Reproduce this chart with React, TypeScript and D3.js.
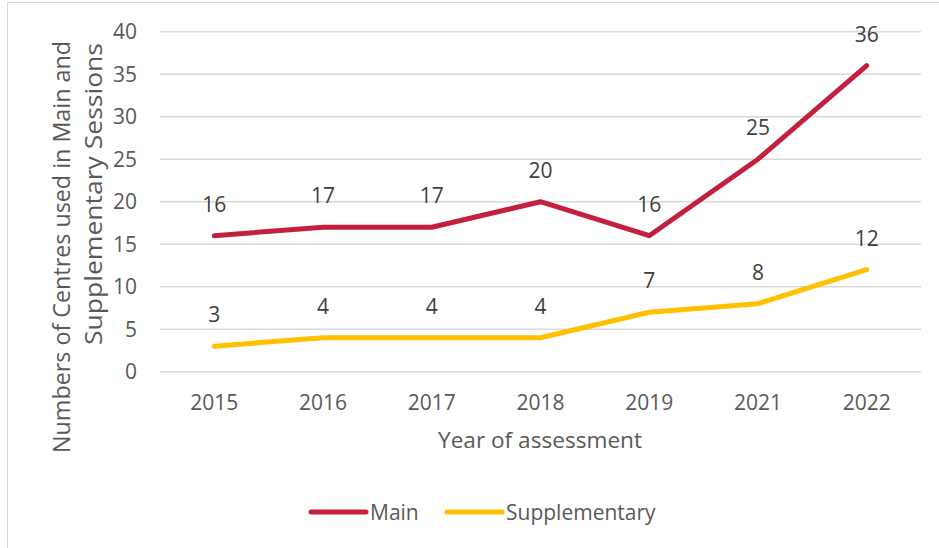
import { useEffect, useRef } from "react";
import * as d3 from "d3";

const years = ["2015", "2016", "2017", "2018", "2019", "2021", "2022"];
const mainValues = [16, 17, 17, 20, 16, 25, 36];
const supplementaryValues = [3, 4, 4, 4, 7, 8, 12];
const yTicks = [0, 5, 10, 15, 20, 25, 30, 35, 40];

const series = [
  { name: "Main", values: mainValues, color: "#C41F3E" },
  { name: "Supplementary", values: supplementaryValues, color: "#FFC000" },
];

const FONT = "'Open Sans', sans-serif";

export default function App() {
  const svgRef = useRef<SVGSVGElement | null>(null);
  const width = 939;
  const height = 548;

  useEffect(() => {
    if (!svgRef.current) return;
    const svg = d3.select(svgRef.current);
    svg.selectAll("*").remove();

    const plot = { left: 160, right: 921, top: 31.7, bottom: 371.7 };

    const x = d3
      .scaleBand<string>()
      .domain(years)
      .range([plot.left, plot.right]);

    const y = d3.scaleLinear().domain([0, 40]).range([plot.bottom, plot.top]);

    // chart border
    svg
      .append("rect")
      .attr("x", 7.5)
      .attr("y", 2.5)
      .attr("width", width)
      .attr("height", height)
      .attr("fill", "#fff")
      .attr("stroke", "#d9d9d9")
      .attr("stroke-width", 1);

    // gridlines
    svg
      .append("g")
      .selectAll("line")
      .data(yTicks)
      .join("line")
      .attr("x1", plot.left)
      .attr("x2", plot.right)
      .attr("y1", (d) => y(d))
      .attr("y2", (d) => y(d))
      .attr("stroke", "#d9d9d9")
      .attr("stroke-width", 1.5);

    // y tick labels
    svg
      .append("g")
      .selectAll("text")
      .data(yTicks)
      .join("text")
      .attr("x", 137)
      .attr("y", (d) => y(d))
      .attr("dy", "0.36em")
      .attr("text-anchor", "end")
      .attr("font-family", FONT)
      .attr("font-size", 21)
      .attr("fill", "#595959")
      .text((d) => d);

    // x tick labels
    svg
      .append("g")
      .selectAll("text")
      .data(years)
      .join("text")
      .attr("x", (d) => x(d)! + x.bandwidth() / 2)
      .attr("y", 410)
      .attr("text-anchor", "middle")
      .attr("font-family", FONT)
      .attr("font-size", 21)
      .attr("fill", "#595959")
      .text((d) => d);

    // axis titles
    svg
      .append("text")
      .attr("x", 540)
      .attr("y", 448)
      .attr("text-anchor", "middle")
      .attr("font-family", FONT)
      .attr("font-size", 21)
      .attr("textLength", 204)
      .attr("lengthAdjust", "spacingAndGlyphs")
      .attr("fill", "#595959")
      .text("Year of assessment");

    const yTitle = svg
      .append("text")
      .attr("transform", "translate(70,41) rotate(-90)")
      .attr("text-anchor", "end")
      .attr("font-family", FONT)
      .attr("font-size", 23)
      .attr("fill", "#595959");
    yTitle
      .append("tspan")
      .attr("x", 0)
      .attr("y", 0)
      .attr("textLength", 412)
      .attr("lengthAdjust", "spacingAndGlyphs")
      .text("Numbers of Centres used in Main and");
    yTitle
      .append("tspan")
      .attr("x", -2)
      .attr("y", 32)
      .attr("textLength", 302)
      .attr("lengthAdjust", "spacingAndGlyphs")
      .text("Supplementary Sessions");

    // lines
    const line = d3
      .line<number>()
      .x((_, i) => x(years[i])! + x.bandwidth() / 2)
      .y((d) => y(d));

    series.forEach((s) => {
      svg
        .append("path")
        .datum(s.values)
        .attr("d", line)
        .attr("fill", "none")
        .attr("stroke", s.color)
        .attr("stroke-width", 5)
        .attr("stroke-linecap", "round")
        .attr("stroke-linejoin", "round");

      svg
        .append("g")
        .selectAll("text")
        .data(s.values)
        .join("text")
        .attr("x", (_, i) => x(years[i])! + x.bandwidth() / 2)
        .attr("y", (d) => y(d) - 24)
        .attr("text-anchor", "middle")
        .attr("font-family", FONT)
        .attr("font-size", 21)
        .attr("fill", "#404040")
        .text((d) => d);
    });

    // legend
    const legendItems = [
      { ...series[0], x1: 311, x2: 366, tx: 370 },
      { ...series[1], x1: 447, x2: 502, tx: 506 },
    ];
    const lg = svg.append("g");
    legendItems.forEach((it) => {
      lg.append("line")
        .attr("x1", it.x1)
        .attr("x2", it.x2)
        .attr("y1", 512)
        .attr("y2", 512)
        .attr("stroke", it.color)
        .attr("stroke-width", 5)
        .attr("stroke-linecap", "round");
      lg.append("text")
        .attr("x", it.tx)
        .attr("y", 520)
        .attr("font-family", FONT)
        .attr("font-size", 21)
        .attr("fill", "#595959")
        .text(it.name);
    });
  }, []);

  return (
    <svg
      ref={svgRef}
      width={width}
      height={height}
      style={{ position: "absolute", left: 0, top: 0, display: "block" }}
    />
  );
}
